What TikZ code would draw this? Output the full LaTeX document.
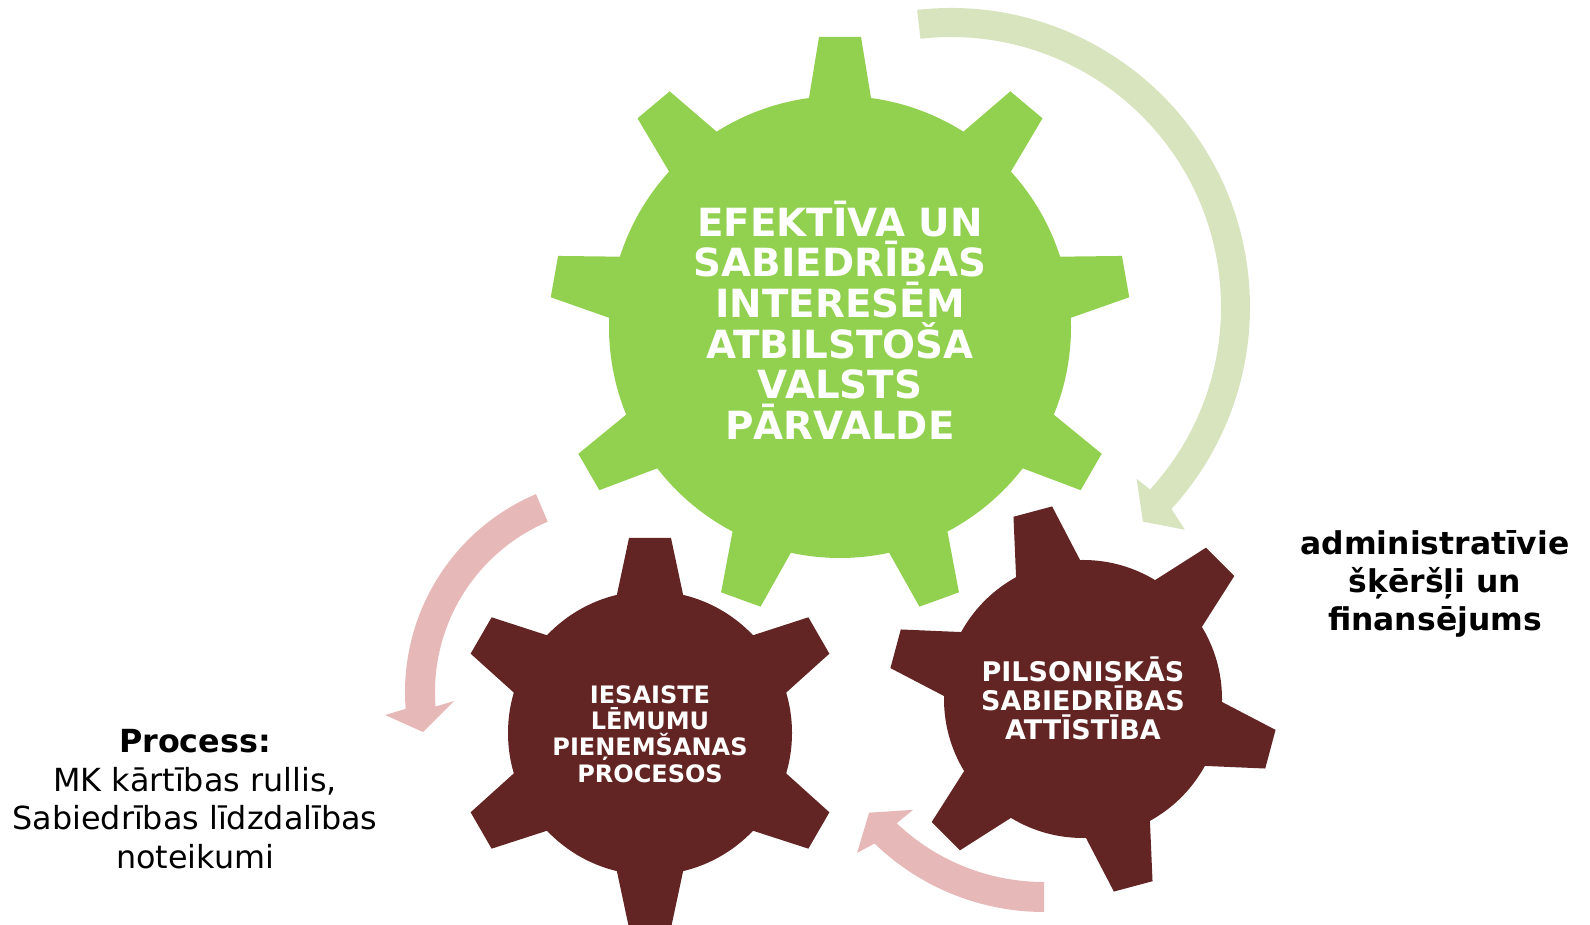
\documentclass[tikz,border=0pt]{standalone}
\usepackage{fontspec}
\setmainfont{DejaVu Sans}
\definecolor{gearGreen}{HTML}{92D050}
\definecolor{gearRed}{HTML}{632523}
\definecolor{arrPink}{HTML}{E6B9B8}
\definecolor{arrGreen}{HTML}{D7E4BD}
% #1 centre, #2 body radius, #3 tip radius, #4 tooth angles, #5 base half width, #6 tip half width, #7 colour
\newcommand{\mygear}[7]{%
  \fill[#7] (#1) circle[radius=#2pt];
  \foreach \a in {#4} {
    \fill[#7, shift={(#1)}, rotate=\a] (#2-8, -#5) -- (#3, -#6) -- (#3, #6) -- (#2-8, #5) -- cycle;
  }%
}
\tikzset{
  geartext/.style={text=white, align=center, inner sep=0pt},
  labeltext/.style={text=black, align=center, inner sep=0pt},
}
\begin{document}
\begin{tikzpicture}[x=1pt,y=1pt]
\useasboundingbox (0,0) rectangle (1590,925);
% centres
\coordinate (gbig) at (840,598);
\coordinate (gleft) at (650,192);
\coordinate (gright) at (1083,226);
\coordinate (cga) at (951,618);
\coordinate (cpa) at (620,233);
\coordinate (cpb) at (1044,257);
% arrows
\begin{scope}[shift={(cga)}]
\fill[arrGreen] (96.5:299pt) arc[start angle=96.5, end angle=-42.5, radius=299pt]
  -- (-43.6:323pt) -- (-48.2:288pt) -- (-42.8:253pt) -- (-42.5:270pt)
  arc[start angle=-42.5, end angle=96.5, radius=270pt] -- cycle;
\end{scope}
\begin{scope}[shift={(cpa)}]
\fill[arrPink] (113:215pt) arc[start angle=113, end angle=184.5, radius=215pt]
  -- (185.6:236pt) -- (191.5:201pt) -- (183.1:166pt) -- (184.5:185pt)
  arc[start angle=184.5, end angle=113, radius=185pt] -- cycle;
\end{scope}
\begin{scope}[shift={(cpb)}]
\fill[arrPink] (270:244pt) arc[start angle=270, end angle=226, radius=244pt]
  -- (224.7:263pt) -- (219.6:227pt) -- (227.3:193pt) -- (226.5:214pt)
  arc[start angle=226.5, end angle=270, radius=214pt] -- cycle;
\end{scope}
% gears
\mygear{gbig}{231}{290}{10,50,90,130,170,210,250,290,330}{32}{21}{gearGreen}
\mygear{gleft}{142}{195}{30,90,150,210,270,330}{34}{21}{gearRed}
\mygear{gright}{139}{194}{45,105,165,225,285,345}{34}{20}{gearRed}
% texts
\node[geartext, font=\bfseries\fontsize{38.8}{40.6}\selectfont] (tbig) at (840,605)
  {EFEKTĪVA UN\\SABIEDRĪBAS\\INTERESĒM\\ATBILSTOŠA\\VALSTS\\PĀRVALDE};
\node[geartext, font=\bfseries\fontsize{24}{26.4}\selectfont] (tleft) at (650,191)
  {IESAISTE\\LĒMUMU\\PIEŅEMŠANAS\\PROCESOS};
\node[geartext, font=\bfseries\fontsize{27}{29}\selectfont] (tright) at (1083,227)
  {PILSONISKĀS\\SABIEDRĪBAS\\ATTĪSTĪBA};
\node[labeltext, font=\bfseries\fontsize{31.4}{38}\selectfont] (lright) at (1435,341)
  {administratīvie\\šķēršļi un\\finansējums};
\node[labeltext, font=\fontsize{31.8}{38.5}\selectfont] (lleft) at (195,126)
  {{\bfseries Process:}\\MK kārtības rullis,\\Sabiedrības līdzdalības\\noteikumi};
\end{tikzpicture}
\end{document}
